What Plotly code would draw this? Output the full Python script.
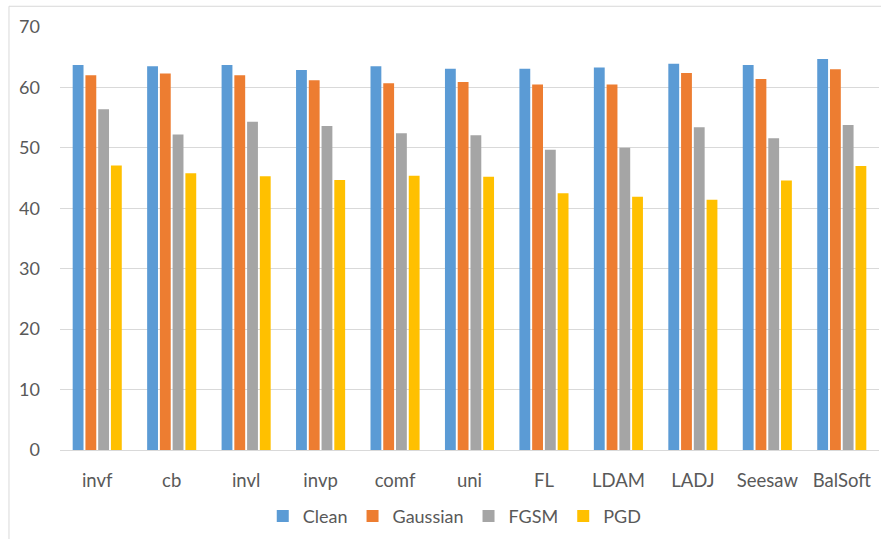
import plotly.graph_objects as go

categories = ["invf", "cb", "invl", "invp", "comf", "uni", "FL", "LDAM", "LADJ", "Seesaw", "BalSoft"]
clean = [63.7, 63.5, 63.7, 62.9, 63.5, 63.1, 63.1, 63.3, 63.9, 63.7, 64.7]
gaussian = [62.0, 62.3, 62.0, 61.2, 60.7, 60.9, 60.5, 60.5, 62.4, 61.4, 63.0]
fgsm = [56.4, 52.2, 54.3, 53.6, 52.4, 52.1, 49.7, 50.0, 53.4, 51.6, 53.8]
pgd = [47.1, 45.8, 45.3, 44.7, 45.4, 45.2, 42.5, 41.9, 41.4, 44.6, 47.0]
y_ticks = [0, 10, 20, 30, 40, 50, 60, 70]

series = [
    ("Clean", clean, "#5B9BD5"),
    ("Gaussian", gaussian, "#ED7D31"),
    ("FGSM", fgsm, "#A5A5A5"),
    ("PGD", pgd, "#FFC000"),
]

fig = go.Figure()
for name, vals, color in series:
    fig.add_trace(go.Bar(
        name=name, x=categories, y=vals,
        marker=dict(color=color, line=dict(width=0)),
    ))

font_family = "Lato, Calibri, Carlito, sans-serif"
text_color = "#595959"

fig.update_layout(
    width=881, height=539,
    margin=dict(l=60, r=2, t=27, b=89),
    paper_bgcolor="white", plot_bgcolor="white",
    barmode="group", bargap=0.315, bargroupgap=0.15,
    font=dict(family=font_family, size=18, color=text_color),
    showlegend=True,
    legend=dict(
        orientation="h", x=0.482, xanchor="center", y=-0.157, yanchor="middle",
        font=dict(size=18, color=text_color), itemwidth=30,
        traceorder="normal",
    ),
    xaxis=dict(
        showgrid=False, showline=False, ticks="",
        tickfont=dict(size=18.5, color=text_color),
        ticklabelstandoff=17,
    ),
    yaxis=dict(
        range=[0, 70], tickvals=y_ticks,
        showgrid=True, gridcolor="#D9D9D9", gridwidth=1,
        zeroline=True, zerolinecolor="#D9D9D9", zerolinewidth=1,
        showline=False, ticks="",
        tickfont=dict(size=18, color=text_color),
        ticklabelstandoff=19,
    ),
)

# light frame around the chart area
fig.add_shape(type="line", xref="paper", yref="paper",
              x0=-0.0623, x1=-0.0623, y0=1.049, y1=-0.25,
              line=dict(color="#D9D9D9", width=1))
fig.add_shape(type="line", xref="paper", yref="paper",
              x0=-0.0623, x1=1.1, y0=1.049, y1=1.049,
              line=dict(color="#D9D9D9", width=1))

fig.write_html("out.html")
